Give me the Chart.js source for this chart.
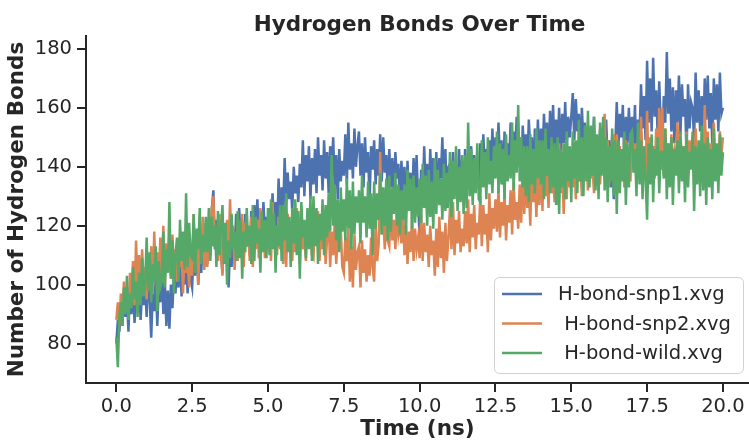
<!DOCTYPE html>
<html lang="en">
<head>
    <meta charset="UTF-8">
    <title>Hydrogen Bonds Over Time</title>
    <style>
        body {
            margin: 0;
            padding: 0;
            background: #ffffff;
        }
        #wrap {
            width: 749px;
            height: 440px;
            position: relative;
            overflow: hidden;
        }
    </style>
</head>
<body>
    <div id="wrap"><canvas id="hbondChart"></canvas></div>
    <script src="https://cdn.jsdelivr.net/npm/chart.js@4.4.1/dist/chart.umd.min.js"></script>
    <script>
        // sampling interval of the trajectory (ns)
        const TIME_STEP = 0.05;

        const seriesLabels = ['H-bond-snp1.xvg', ' H-bond-snp2.xvg', ' H-bond-wild.xvg'];
        const seriesColors = ['#4C72B0', '#DD8452', '#55A868'];

        // one row = 0.5 ns
        const snp1 = [
            80, 88, 84, 93, 86, 97, 89, 95, 84, 99,
            90, 101, 87, 96, 92, 102, 88, 98, 93, 100,
            89, 104, 95, 82, 97, 91, 103, 86, 99, 94,
            106, 90, 101, 86, 98, 85, 100, 92, 104, 97,
            108, 99, 112, 96, 105, 100, 110, 97, 113, 102,
            99, 111, 103, 116, 100, 109, 104, 118, 106, 114,
            107, 121, 110, 126, 132, 112, 122, 108, 119, 111,
            104, 120, 109, 116, 99, 113, 106, 119, 110, 124,
            112, 126, 115, 121, 109, 124, 113, 119, 110, 125,
            114, 127, 118, 129, 115, 122, 112, 128, 117, 123,
            113, 126, 118, 131, 120, 128, 116, 136, 122, 133,
            124, 143, 127, 138, 129, 135, 125, 140, 131, 137,
            128, 141, 133, 149, 130, 144, 135, 147, 129, 143,
            134, 146, 131, 150, 137, 144, 132, 149, 136, 145,
            131, 147, 138, 150, 133, 144, 129, 146, 135, 142,
            137, 151, 134, 155, 139, 148, 136, 153, 140, 147,
            152, 137, 148, 133, 150, 138, 145, 128, 147, 139,
            149, 134, 146, 137, 151, 135, 150, 138, 144, 132,
            146, 133, 143, 130, 145, 136, 141, 127, 142, 131,
            140, 124, 142, 129, 138, 126, 143, 131, 144, 128,
            116, 139, 127, 147, 132, 141, 125, 146, 134, 143,
            131, 145, 128, 143, 136, 150, 130, 146, 126, 140,
            141, 132, 145, 135, 140, 129, 146, 134, 142, 133,
            146, 131, 143, 137, 147, 130, 144, 136, 141, 135,
            148, 134, 151, 139, 146, 136, 149, 140, 153, 137,
            150, 138, 155, 141, 149, 134, 152, 142, 148, 140,
            155, 139, 152, 144, 157, 141, 150, 137, 154, 143,
            151, 139, 156, 145, 150, 136, 153, 142, 156, 140,
            153, 143, 158, 146, 155, 140, 159, 147, 161, 144,
            156, 145, 160, 142, 158, 148, 162, 146, 157, 150,
            157, 165, 149, 163, 152, 158, 144, 160, 148, 155,
            141, 154, 137, 152, 145, 157, 134, 150, 142, 153,
            140, 153, 136, 156, 142, 149, 133, 151, 129, 147,
            162, 145, 158, 150, 161, 142, 157, 148, 160, 146,
            157, 147, 161, 141, 156, 150, 168, 153, 164, 149,
            176, 155, 170, 152, 177, 157, 166, 150, 169, 154,
            146, 164, 155, 179, 158, 170, 152, 167, 148, 166,
            155, 171, 151, 168, 157, 163, 144, 168, 153, 162,
            160, 149, 172, 155, 166, 152, 164, 147, 170, 156,
            171, 153, 165, 147, 170, 156, 168, 152, 172, 158,
            160
        ];

        const snp2 = [
            88, 94, 86, 97, 90, 101, 92, 99, 89, 104,
            96, 108, 93, 115, 99, 110, 95, 112, 101, 106,
            95, 109, 98, 113, 97, 118, 103, 111, 100, 116,
            104, 120, 100, 114, 106, 110, 102, 117, 105, 112,
            101, 115, 106, 110, 97, 113, 104, 109, 99, 114,
            103, 124, 107, 118, 100, 116, 109, 123, 105, 121,
            106, 121, 112, 126, 130, 114, 119, 108, 124, 111,
            103, 118, 109, 122, 110, 129, 112, 120, 105, 117,
            108, 118, 111, 124, 106, 121, 113, 117, 108, 123,
            106, 119, 112, 122, 109, 126, 114, 120, 109, 118,
            113, 121, 108, 128, 115, 119, 110, 123, 112, 117,
            107, 119, 106, 124, 113, 121, 108, 118, 111, 126,
            120, 107, 126, 112, 117, 108, 123, 113, 119, 110,
            109, 122, 114, 125, 108, 119, 112, 121, 107, 116,
            123, 106, 118, 110, 121, 107, 117, 112, 119, 106,
            104, 116, 108, 119, 101, 113, 99, 117, 105, 111,
            113, 99, 115, 104, 112, 101, 110, 103, 116, 106,
            101, 120, 108, 114, 145, 117, 125, 112, 121, 115,
            113, 127, 115, 122, 112, 124, 117, 121, 114, 126,
            110, 120, 107, 118, 111, 123, 108, 119, 112, 116,
            109, 124, 108, 121, 111, 117, 106, 120, 110, 115,
            103, 119, 106, 123, 109, 118, 104, 121, 108, 116,
            126, 112, 128, 110, 122, 114, 125, 111, 119, 113,
            125, 114, 129, 111, 124, 116, 127, 112, 121, 117,
            130, 113, 127, 117, 124, 111, 131, 115, 126, 119,
            129, 118, 133, 116, 128, 120, 131, 115, 127, 121,
            132, 117, 135, 122, 128, 119, 134, 121, 142, 124,
            138, 126, 133, 120, 146, 128, 137, 123, 141, 127,
            143, 125, 147, 130, 139, 126, 144, 131, 138, 128,
            145, 127, 148, 131, 142, 124, 140, 129, 146, 133,
            139, 133, 145, 129, 147, 135, 141, 130, 144, 136,
            143, 132, 149, 136, 140, 131, 146, 137, 142, 134,
            146, 138, 158, 137, 149, 134, 145, 139, 151, 136,
            151, 139, 147, 136, 144, 133, 149, 140, 146, 135,
            152, 140, 148, 135, 150, 138, 157, 141, 146, 137,
            159, 138, 150, 142, 147, 136, 153, 140, 160, 139,
            160, 137, 153, 140, 148, 136, 151, 141, 145, 138,
            155, 139, 150, 143, 147, 136, 152, 140, 149, 142,
            150, 134, 153, 140, 146, 137, 149, 141, 161, 143,
            152, 136, 148, 142, 155, 139, 147, 141, 152, 144,
            150
        ];

        const wild = [
            82, 72, 89, 94, 86, 99, 90, 103, 88, 97,
            92, 106, 95, 101, 89, 104, 93, 109, 96, 100,
            116, 98, 111, 94, 107, 101, 113, 91, 108, 99,
            101, 118, 99, 112, 104, 128, 102, 115, 97, 110,
            116, 101, 122, 108, 118, 105, 131, 106, 121, 110,
            109, 124, 104, 119, 112, 126, 107, 117, 111, 123,
            111, 126, 108, 123, 113, 120, 106, 125, 110, 119,
            127, 107, 121, 100, 115, 109, 124, 112, 118, 108,
            125, 109, 122, 102, 118, 111, 126, 113, 120, 107,
            127, 108, 123, 114, 119, 104, 125, 111, 122, 109,
            126, 110, 129, 112, 124, 104, 120, 113, 127, 108,
            127, 115, 131, 111, 123, 106, 126, 114, 129, 110,
            125, 102, 128, 116, 122, 109, 126, 112, 130, 108,
            130, 113, 126, 107, 124, 115, 129, 110, 127, 116,
            131, 118, 144, 120, 134, 115, 129, 111, 133, 118,
            129, 115, 136, 119, 132, 112, 135, 117, 130, 121,
            132, 114, 137, 121, 130, 116, 135, 119, 131, 110,
            135, 119, 131, 122, 138, 117, 133, 120, 136, 115,
            137, 118, 133, 124, 138, 120, 134, 117, 132, 122,
            134, 117, 139, 125, 136, 119, 137, 121, 133, 123,
            136, 121, 141, 126, 137, 120, 139, 123, 135, 119,
            143, 124, 139, 127, 136, 122, 141, 125, 138, 126,
            145, 123, 142, 129, 147, 125, 140, 128, 144, 124,
            144, 126, 155, 130, 146, 127, 143, 131, 148, 129,
            128, 149, 133, 145, 129, 150, 134, 142, 131, 147,
            136, 152, 131, 148, 134, 146, 129, 151, 135, 144,
            136, 155, 132, 149, 138, 161, 135, 150, 133, 147,
            130, 147, 128, 151, 134, 146, 131, 153, 136, 149,
            134, 149, 129, 153, 137, 146, 131, 150, 133, 148,
            127, 150, 124, 146, 133, 148, 129, 152, 135, 147,
            128, 152, 136, 149, 131, 156, 135, 150, 130, 154,
            135, 159, 133, 154, 137, 157, 132, 151, 129, 155,
            137, 157, 132, 150, 128, 147, 135, 153, 130, 149,
            124, 149, 131, 146, 135, 152, 127, 148, 133, 151,
            152, 138, 146, 130, 155, 134, 149, 129, 147, 136,
            122, 148, 134, 151, 128, 146, 137, 150, 131, 145,
            145, 136, 153, 129, 148, 133, 150, 127, 146, 137,
            149, 131, 152, 135, 147, 128, 151, 133, 145, 139,
            152, 125, 147, 134, 149, 130, 154, 132, 148, 127,
            150, 133, 146, 129, 153, 135, 148, 131, 151, 137,
            145
        ];

        const xTicks = [0, 2.5, 5, 7.5, 10, 12.5, 15, 17.5, 20];
        const xTickLabels = ['0.0', '2.5', '5.0', '7.5', '10.0', '12.5', '15.0', '17.5', '20.0'];
        const yTicks = [80, 100, 120, 140, 160, 180];

        const INK = '#262626';
        const FONT = 'DejaVu Sans';

        function toPoints(values) {
            return values.map((v, i) => ({ x: i * TIME_STEP, y: v }));
        }

        const series = [snp1, snp2, wild];
        const datasets = series.map((vals, i) => ({
            label: seriesLabels[i],
            data: toPoints(vals),
            borderColor: seriesColors[i],
            backgroundColor: seriesColors[i],
            borderWidth: 2.5,
            pointRadius: 0,
            tension: 0,
            order: 3 - i
        }));

        // title centred over the axes, like matplotlib
        const titlePlugin = {
            id: 'axesTitle',
            afterDraw(chart) {
                const ctx = chart.ctx;
                const xs = chart.scales.x;
                const cx = (chart.chartArea.left + xs.getPixelForValue(21)) / 2;
                ctx.save();
                ctx.fillStyle = INK;
                ctx.font = 'bold 21.5px "' + FONT + '"';
                ctx.textAlign = 'center';
                ctx.textBaseline = 'alphabetic';
                ctx.fillText('Hydrogen Bonds Over Time', cx, 31);
                ctx.restore();
            }
        };

        // legend box in the lower right of the axes
        const legendPlugin = {
            id: 'boxLegend',
            afterDraw(chart) {
                const ctx = chart.ctx;
                const bx = 494, by = 277, bw = 249, bh = 96, r = 5;
                ctx.save();
                ctx.beginPath();
                ctx.roundRect(bx + 0.5, by + 0.5, bw, bh, r);
                ctx.fillStyle = 'rgba(255,255,255,0.8)';
                ctx.fill();
                ctx.strokeStyle = '#d0d0d0';
                ctx.lineWidth = 1;
                ctx.stroke();
                ctx.font = '19.5px "' + FONT + '"';
                ctx.textBaseline = 'middle';
                ctx.textAlign = 'left';
                seriesLabels.forEach((label, i) => {
                    const ly = by + 17 + i * 29.5;
                    ctx.beginPath();
                    ctx.moveTo(bx + 8, ly);
                    ctx.lineTo(bx + 48, ly);
                    ctx.strokeStyle = seriesColors[i];
                    ctx.lineWidth = 2.5;
                    ctx.stroke();
                    ctx.fillStyle = INK;
                    ctx.fillText(label, bx + 64, ly + 1);
                });
                ctx.restore();
            }
        };

        const ctx = document.getElementById('hbondChart').getContext('2d');
        const myChart = new Chart(ctx, {
            type: 'line',
            data: { datasets: datasets },
            options: {
                responsive: true,
                maintainAspectRatio: false,
                animation: false,
                layout: { padding: { top: 36, right: 0, bottom: 0, left: 0 } },
                plugins: {
                    legend: { display: false },
                    tooltip: { enabled: false },
                    title: { display: false }
                },
                scales: {
                    x: {
                        type: 'linear',
                        min: -1,
                        max: 20.86,
                        afterFit: (s) => { s.height = 57; },
                        afterBuildTicks: (s) => { s.ticks = xTicks.map(v => ({ value: v })); },
                        ticks: {
                            color: INK,
                            font: { family: FONT, size: 19.5 },
                            padding: 3,
                            maxRotation: 0,
                            callback: (v) => xTickLabels[xTicks.indexOf(v)]
                        },
                        grid: {
                            drawOnChartArea: false,
                            drawTicks: true,
                            tickLength: 9,
                            tickColor: INK,
                            lineWidth: 2
                        },
                        border: { display: true, color: INK, width: 2 },
                        title: {
                            display: true,
                            text: 'Time (ns)',
                            color: INK,
                            font: { family: FONT, size: 21.5, weight: 'bold', lineHeight: 1 },
                            padding: { top: 0, bottom: 0 }
                        }
                    },
                    y: {
                        type: 'linear',
                        min: 66.6,
                        max: 184.4,
                        afterFit: (s) => { s.width = 86; },
                        afterBuildTicks: (s) => { s.ticks = yTicks.map(v => ({ value: v })); },
                        ticks: {
                            color: INK,
                            font: { family: FONT, size: 19.5 },
                            padding: 5
                        },
                        grid: {
                            drawOnChartArea: false,
                            drawTicks: true,
                            tickLength: 9,
                            tickColor: INK,
                            lineWidth: 2
                        },
                        border: { display: true, color: INK, width: 2 },
                        title: {
                            display: true,
                            text: 'Number of Hydrogen Bonds',
                            color: INK,
                            font: { family: FONT, size: 21.5, weight: 'bold', lineHeight: 1 },
                            padding: { top: 7, bottom: 0 }
                        }
                    }
                }
            },
            plugins: [titlePlugin, legendPlugin]
        });
    </script>
</body>
</html>
